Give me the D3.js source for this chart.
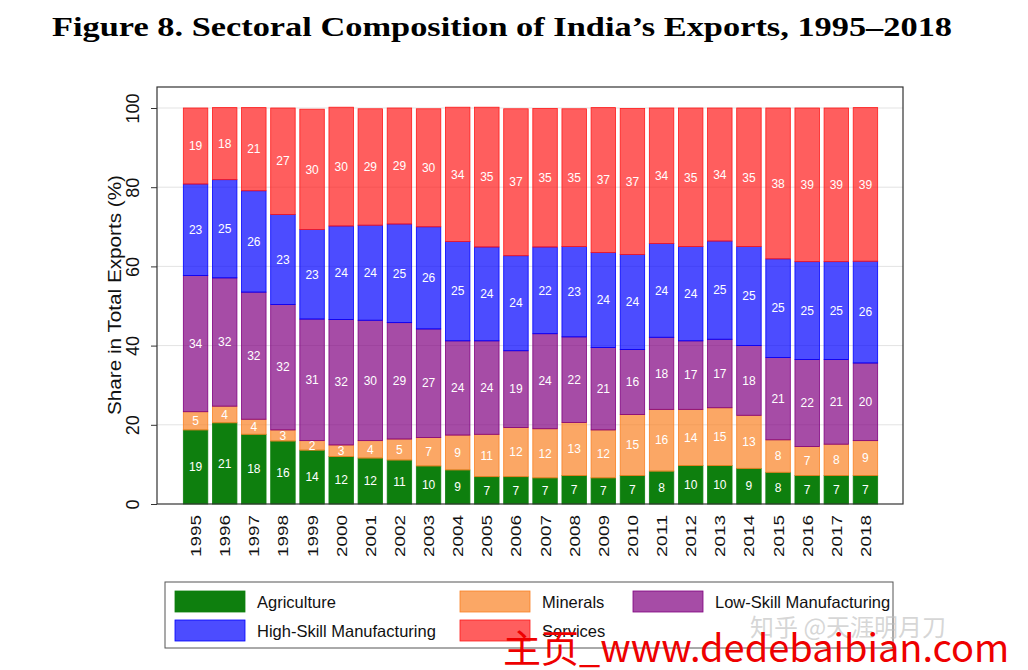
<!DOCTYPE html>
<html lang="en">
<head>
    <meta charset="UTF-8">
    <script src="https://cdn.jsdelivr.net/npm/d3@7"></script>
    <title>India Exports</title>
    <style>
        body { margin: 0; background: white; }
        svg { display: block; }
        text { font-family: "Liberation Sans", Arial, sans-serif; }
    </style>
</head>
<body>
    <div id="chart"></div>

    <script>
        const width = 1028;
        const height = 670;

        const years = ["1995", "1996", "1997", "1998", "1999", "2000", "2001", "2002", "2003", "2004", "2005", "2006",
                       "2007", "2008", "2009", "2010", "2011", "2012", "2013", "2014", "2015", "2016", "2017", "2018"];
        const agriculture = [18.7, 20.5, 17.6, 15.9, 13.6, 12.0, 11.6, 11.1, 9.6, 8.6, 6.9, 6.9,
                             6.6, 7.2, 6.6, 7.2, 8.3, 9.7, 9.7, 9.0, 8.0, 7.2, 7.2, 7.2];
        const minerals = [4.6, 4.2, 3.8, 2.8, 2.4, 2.9, 4.4, 5.3, 7.2, 8.8, 10.7, 12.4,
                          12.4, 13.4, 12.1, 15.4, 15.6, 14.2, 14.6, 13.4, 8.2, 7.3, 7.9, 8.8];
        const lowSkill = [34.4, 32.4, 32.1, 31.7, 30.7, 31.7, 30.4, 29.4, 27.4, 23.8, 23.6, 19.4,
                          24.0, 21.6, 20.8, 16.4, 18.2, 17.3, 17.3, 17.6, 20.8, 22.0, 21.4, 19.6];
        const highSkill = [23.1, 24.8, 25.6, 22.7, 22.6, 23.6, 24.0, 24.9, 25.8, 25.1, 23.7, 24.0,
                           21.9, 22.8, 24.0, 24.0, 23.7, 23.8, 24.8, 25.0, 24.9, 24.7, 24.7, 25.7];
        const services = [19.2, 18.2, 21.0, 26.9, 30.4, 30.0, 29.4, 29.3, 29.8, 33.9, 35.3, 37.1,
                          35.0, 34.8, 36.6, 36.9, 34.2, 35.0, 33.6, 35.0, 38.1, 38.8, 38.8, 38.8];
        const yTicks = [0, 20, 40, 60, 80, 100];

        const sectors = [
            { key: "agriculture", label: "Agriculture", values: agriculture, color: "#0e7f0e", opacity: 1 },
            { key: "minerals", label: "Minerals", values: minerals, color: "#f98124", opacity: 0.7 },
            { key: "lowSkill", label: "Low-Skill Manufacturing", values: lowSkill, color: "#800080", opacity: 0.7 },
            { key: "highSkill", label: "High-Skill Manufacturing", values: highSkill, color: "#0000ff", opacity: 0.7 },
            { key: "services", label: "Services", values: services, color: "#ff1a1a", opacity: 0.7 }
        ];

        const rows = years.map((y, i) => {
            const row = { year: y };
            sectors.forEach(s => row[s.key] = s.values[i]);
            return row;
        });

        const svg = d3.select("#chart").append("svg")
            .attr("width", width)
            .attr("height", height);

        // title
        svg.append("text")
            .attr("x", 52)
            .attr("y", 36)
            .attr("textLength", 900)
            .attr("lengthAdjust", "spacingAndGlyphs")
            .style("font-family", "'Liberation Serif', 'DejaVu Serif', serif")
            .style("font-size", "28px")
            .style("font-weight", "bold")
            .text("Figure 8. Sectoral Composition of India\u2019s Exports, 1995\u20132018");

        const frame = { left: 157, right: 903, top: 87, bottom: 504 };

        const x = d3.scaleBand()
            .domain(years)
            .range([181, 880])
            .paddingInner(0.16)
            .paddingOuter(0.08);

        const y = d3.scaleLinear()
            .domain([0, 100])
            .range([504, 108]);

        // gridlines
        svg.append("g")
            .selectAll("line")
            .data(yTicks.slice(1))
            .join("line")
            .attr("x1", frame.left)
            .attr("x2", frame.right)
            .attr("y1", d => y(d))
            .attr("y2", d => y(d))
            .attr("stroke", "#e3e3e3")
            .attr("stroke-width", 1);

        const stack = d3.stack().keys(sectors.map(s => s.key));
        const series = stack(rows);

        const layers = svg.append("g")
            .selectAll("g")
            .data(series)
            .join("g")
            .attr("fill", (d, i) => sectors[i].color)
            .attr("fill-opacity", (d, i) => sectors[i].opacity)
            .attr("stroke", (d, i) => sectors[i].color)
            .attr("stroke-width", 0.8);

        layers.selectAll("rect")
            .data(d => d)
            .join("rect")
            .attr("x", d => x(d.data.year))
            .attr("width", x.bandwidth())
            .attr("y", d => y(d[1]))
            .attr("height", d => y(d[0]) - y(d[1]));

        // bar value labels
        const labels = svg.append("g");
        series.forEach(s => {
            labels.selectAll(null)
                .data(s)
                .join("text")
                .attr("x", d => x(d.data.year) + x.bandwidth() / 2)
                .attr("y", d => y((d[0] + d[1]) / 2))
                .attr("dy", "0.35em")
                .attr("text-anchor", "middle")
                .attr("fill", "white")
                .style("font-size", "12px")
                .style("font-weight", "500")
                .text(d => Math.round(d[1] - d[0]));
        });

        // frame
        svg.append("rect")
            .attr("x", frame.left)
            .attr("y", frame.top)
            .attr("width", frame.right - frame.left)
            .attr("height", frame.bottom - frame.top)
            .attr("fill", "none")
            .attr("stroke", "#333")
            .attr("stroke-width", 1.2);

        // y axis
        const yAxis = svg.append("g")
            .attr("transform", `translate(${frame.left},0)`)
            .call(d3.axisLeft(y).tickValues(yTicks).tickSize(6).tickFormat(d3.format("d")));
        yAxis.select(".domain").remove();
        yAxis.selectAll(".tick line").attr("stroke", "#333");
        yAxis.selectAll(".tick text")
            .attr("transform", "rotate(-90)")
            .attr("x", 0)
            .attr("y", -18)
            .attr("dy", 0)
            .attr("text-anchor", "middle")
            .style("font-size", "18px")
            .style("font-family", "'Liberation Sans', Arial, sans-serif")
            .attr("fill", "#111");

        svg.append("text")
            .attr("transform", "translate(121,295) rotate(-90)")
            .attr("text-anchor", "middle")
            .attr("textLength", 240)
            .attr("lengthAdjust", "spacingAndGlyphs")
            .style("font-size", "18px")
            .attr("fill", "#111")
            .text("Share in Total Exports (%)");

        // x axis
        const xAxis = svg.append("g")
            .attr("transform", `translate(0,${frame.bottom})`)
            .call(d3.axisBottom(x).tickSize(0));
        xAxis.select(".domain").remove();
        xAxis.selectAll(".tick text")
            .attr("transform", "rotate(-90)")
            .attr("x", -11)
            .attr("y", 0)
            .attr("dy", "0.35em")
            .attr("text-anchor", "end")
            .attr("textLength", 42)
            .attr("lengthAdjust", "spacingAndGlyphs")
            .style("font-size", "15.5px")
            .style("font-family", "'Liberation Sans', Arial, sans-serif")
            .attr("fill", "#111");

        // legend
        const legend = svg.append("g");
        legend.append("rect")
            .attr("x", 165)
            .attr("y", 582)
            .attr("width", 728)
            .attr("height", 66)
            .attr("fill", "white")
            .attr("stroke", "#555")
            .attr("stroke-width", 1);

        const legendPos = [
            { x: 175, y: 591 }, { x: 460, y: 591 }, { x: 633, y: 591 },
            { x: 175, y: 620 }, { x: 460, y: 620 }
        ];
        const items = legend.selectAll("g.item")
            .data(sectors)
            .join("g")
            .attr("class", "item")
            .attr("transform", (d, i) => `translate(${legendPos[i].x},${legendPos[i].y})`);
        items.append("rect")
            .attr("width", 70)
            .attr("height", 21)
            .attr("fill", d => d.color)
            .attr("fill-opacity", d => d.opacity)
            .attr("stroke", d => d.color)
            .attr("stroke-width", 0.8);
        items.append("text")
            .attr("x", 82)
            .attr("y", 11)
            .attr("dy", "0.35em")
            .style("font-size", "16.5px")
            .attr("fill", "#111")
            .text(d => d.label);

        // watermark
        svg.append("text")
            .attr("x", 750)
            .attr("y", 636)
            .style("font-family", "'Noto Sans CJK SC', sans-serif")
            .style("font-size", "24px")
            .attr("fill", "#bbb")
            .attr("fill-opacity", 0.6)
            .text("知乎 @天涯明月刀");
        svg.append("text")
            .attr("x", 503)
            .attr("y", 662)
            .style("font-family", "'Noto Sans CJK SC', sans-serif")
            .style("font-size", "38px")
            .attr("fill", "#ee0000")
            .text("主页_www.dedebaibian.com");
    </script>
</body>
</html>
